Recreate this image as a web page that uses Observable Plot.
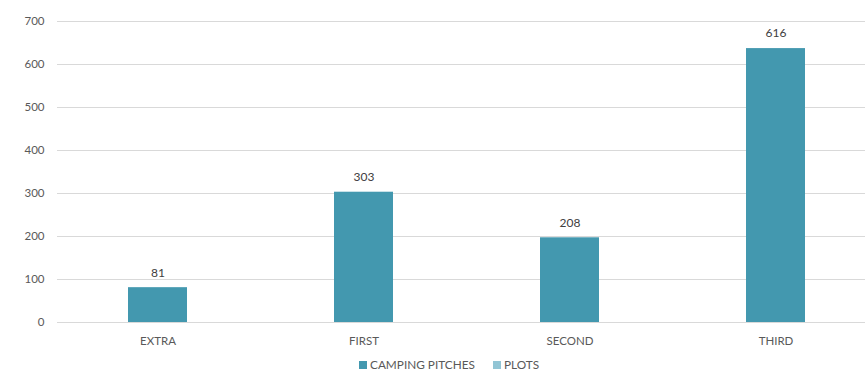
<!DOCTYPE html>
<html>
<head>
<meta charset="utf-8">
<script src="https://cdn.jsdelivr.net/npm/d3@7"></script>
<script src="https://cdn.jsdelivr.net/npm/@observablehq/plot@0.6"></script>
<style>
  html, body { margin: 0; padding: 0; background: #fff; }
  #wrap { position: relative; width: 865px; height: 371px; font-family: Lato, "Open Sans", sans-serif; }
  #legend { position: absolute; top: 357px; left: 359px; display: flex; align-items: center; font-size: 11.8px; color: #595959; white-space: nowrap; }
  .sw { display: inline-block; width: 8px; height: 8px; margin-right: 3px; }
  .item { display: flex; align-items: center; margin-right: 18px; }
</style>
</head>
<body>
<div id="wrap">
  <div id="chart"></div>
  <div id="legend"></div>
</div>
<script>
const categories = ["EXTRA", "FIRST", "SECOND", "THIRD"];
const campingPitches = [81, 303, 197, 637];
const dataLabels = [81, 303, 208, 616];
const seriesNames = ["CAMPING PITCHES", "PLOTS"];
const seriesColors = ["#4398AF", "#92C5D5"];
const yTicks = [0, 100, 200, 300, 400, 500, 600, 700];

const data = categories.map((c, i) => ({cat: c, value: campingPitches[i], label: String(dataLabels[i])}));

const chart = Plot.plot({
  width: 865,
  height: 350,
  marginTop: 21,
  marginBottom: 28,
  marginLeft: 57,
  marginRight: 0,
  style: {fontFamily: "Lato, 'Open Sans', sans-serif", fontSize: "11.5px", color: "#595959", background: "#fff"},
  x: {domain: categories, range: [54.8, 878.8], paddingInner: 0.7136, paddingOuter: 0.3568, label: null, tickSize: 0, tickPadding: 14},
  y: {domain: [0, 700], ticks: yTicks, label: null, tickSize: 0, tickPadding: 13},
  marks: [
    Plot.gridY(yTicks, {stroke: "#d9d9d9", strokeOpacity: 1, strokeWidth: 1}),
    Plot.barY(data, {x: "cat", y: "value", fill: seriesColors[0]}),
    Plot.text(data, {x: "cat", y: "value", text: "label", dy: -15, fill: "#404040", fontSize: 12}),
    Plot.axisY({ticks: yTicks, tickSize: 0, tickPadding: 13, fill: "#595959", fontSize: 11.5}),
    Plot.axisX({tickSize: 0, tickPadding: 14, fill: "#595959", fontSize: 11.5})
  ]
});
document.getElementById("chart").appendChild(chart);

const legend = document.getElementById("legend");
seriesNames.forEach((n, i) => {
  const item = document.createElement("span");
  item.className = "item";
  const sw = document.createElement("span");
  sw.className = "sw";
  sw.style.background = seriesColors[i];
  item.appendChild(sw);
  item.appendChild(document.createTextNode(n));
  legend.appendChild(item);
});
</script>
</body>
</html>
